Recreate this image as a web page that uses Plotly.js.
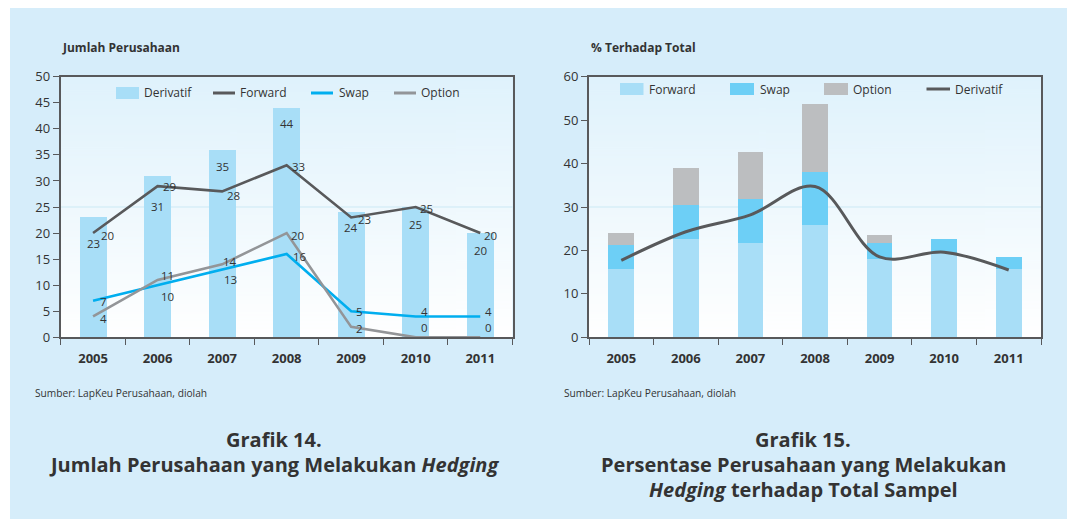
<!DOCTYPE html>
<html>
<head>
<meta charset="utf-8">
<script src="https://cdn.plot.ly/plotly-3.0.1.min.js"></script>
<style>
html,body{margin:0;padding:0;background:#ffffff;}
#chart{width:1067px;height:519px;}
</style>
</head>
<body>
<div id="chart"></div>
<script>
// ---------- DATA ----------
const years = ['2005','2006','2007','2008','2009','2010','2011'];

// Grafik 14 - Jumlah Perusahaan
const derivatif       = [23, 31, 36, 44, 24, 25, 20];
const derivatifLabels = ['23','31','35','44','24','25','20'];
const forward = [20, 29, 28, 33, 23, 25, 20];
const swap    = [7, 10, 13, 16, 5, 4, 4];
const option  = [4, 11, 14, 20, 2, 0, 0];

// Grafik 15 - % Terhadap Total
const forwardPct   = [15.8, 22.6, 21.7, 25.9, 18.0, 19.4, 15.7];
const swapPct      = [5.4, 7.9, 10.1, 12.2, 3.7, 3.2, 2.8];
const optionPct    = [2.8, 8.5, 10.9, 15.6, 1.9, 0, 0];
const derivatifPct = [17.7, 24.3, 28.2, 34.7, 18.5, 19.6, 15.5];

// ---------- STYLE ----------
const W = 1067, H = 519;
const px = x => x / W;
const py = y => 1 - y / H;
const FONT = 'Open Sans, Noto Sans, sans-serif';
const TXT = '#333333';
const AX = '#58595b';
const C_LIGHT = 'rgb(168,222,247)';
const C_SWAPBAR = 'rgb(109,207,246)';
const C_OPTBAR = 'rgb(188,190,192)';
const C_FWDLINE = 'rgb(88,89,91)';
const C_SWAPLINE = 'rgb(0,174,239)';
const C_OPTLINE = 'rgb(147,149,152)';

const L = {x0: 60.8, x1: 512.5, y0: 76.7, y1: 337.3};
const R = {x0: 589, x1: 1041, y0: 76.7, y1: 337.3};

function gradientURL() {
  const c = document.createElement('canvas');
  c.width = 4; c.height = 256;
  const g = c.getContext('2d');
  const gr = g.createLinearGradient(0, 0, 0, 256);
  gr.addColorStop(0, 'rgb(223,242,252)');
  gr.addColorStop(1, 'rgb(255,255,255)');
  g.fillStyle = gr;
  g.fillRect(0, 0, 4, 256);
  return c.toDataURL('image/png');
}
const grad = gradientURL();

function bgImage(b) {
  return {source: grad, xref: 'paper', yref: 'paper', x: px(b.x0), y: py(b.y0),
          sizex: (b.x1 - b.x0) / W, sizey: (b.y1 - b.y0) / H,
          xanchor: 'left', yanchor: 'top', sizing: 'stretch', layer: 'below'};
}

// ---------- TRACES ----------
const traces = [
  {type: 'bar', x: years, y: derivatif, xaxis: 'x', yaxis: 'y', width: 0.42,
   marker: {color: C_LIGHT}, hoverinfo: 'skip', showlegend: false},
  {type: 'scatter', mode: 'lines', x: years, y: forward, xaxis: 'x', yaxis: 'y',
   line: {color: C_FWDLINE, width: 2.6}, hoverinfo: 'skip', showlegend: false},
  {type: 'scatter', mode: 'lines', x: years, y: swap, xaxis: 'x', yaxis: 'y',
   line: {color: C_SWAPLINE, width: 2.6}, hoverinfo: 'skip', showlegend: false},
  {type: 'scatter', mode: 'lines', x: years, y: option, xaxis: 'x', yaxis: 'y',
   line: {color: C_OPTLINE, width: 2.6}, hoverinfo: 'skip', showlegend: false},

  {type: 'bar', x: years, y: forwardPct, xaxis: 'x2', yaxis: 'y2', width: 0.4,
   marker: {color: C_LIGHT}, hoverinfo: 'skip', showlegend: false},
  {type: 'bar', x: years, y: swapPct, xaxis: 'x2', yaxis: 'y2', width: 0.4,
   marker: {color: C_SWAPBAR}, hoverinfo: 'skip', showlegend: false},
  {type: 'bar', x: years, y: optionPct, xaxis: 'x2', yaxis: 'y2', width: 0.4,
   marker: {color: C_OPTBAR}, hoverinfo: 'skip', showlegend: false},
  {type: 'scatter', mode: 'lines', x: years, y: derivatifPct, xaxis: 'x2', yaxis: 'y2',
   line: {color: C_FWDLINE, width: 3, shape: 'spline', smoothing: 1}, hoverinfo: 'skip', showlegend: false}
];

// ---------- LABELS ----------
const labelFont = {family: FONT, size: 11.5, color: TXT};
// x is the category index (position on the category axis)
function seriesLabels(values, texts, xs, ys, anchor) {
  return values.map((v, i) => ({
    xref: 'x', yref: 'y', x: i, y: v, text: texts[i], showarrow: false,
    xanchor: anchor, yanchor: 'middle', xshift: xs[i], yshift: ys[i], font: labelFont
  }));
}
const annotations = [].concat(
  seriesLabels(derivatif, derivatifLabels, [0,0,0,0,0,0,0], [-26,-31,-17,-16,-15.5,-17,-17.6], 'center'),
  seriesLabels(forward, forward.map(String), [6,3,3,3,5,2,2], [-2,0,-4,-1,-2,-1,-2], 'left'),
  seriesLabels(swap, swap.map(String), [5,1,0,4,3,3,3], [-1,-11.5,-9.5,-3,0,4.7,4.7], 'left'),
  seriesLabels(option, option.map(String), [5,1,-1,2,3,3,3], [-2,4,3.3,-2,-1.4,9.6,9.6], 'left')
);

function textAnn(x, y, text, size, anchor, bold) {
  return {xref: 'paper', yref: 'paper', x: px(x), y: py(y), text: bold ? '<b>' + text + '</b>' : text,
          showarrow: false, xanchor: anchor, yanchor: 'middle',
          font: {family: FONT, size: size, color: TXT}};
}
// axis titles
annotations.push(textAnn(60, 47.3, 'Jumlah Perusahaan', 12, 'left', true));
annotations.push(textAnn(589, 47.3, '% Terhadap Total', 12, 'left', true));
// sources
annotations.push(textAnn(33, 393, 'Sumber: LapKeu Perusahaan, diolah', 10.2, 'left', false));
annotations.push(textAnn(562, 393, 'Sumber: LapKeu Perusahaan, diolah', 10.2, 'left', false));
// captions
const CAP = 20;
annotations.push(textAnn(274, 439, 'Grafik 14.', CAP, 'center', true));
annotations.push(textAnn(274, 464, 'Jumlah Perusahaan yang Melakukan <i>Hedging</i>', CAP, 'center', true));
annotations.push(textAnn(803, 439, 'Grafik 15.', CAP, 'center', true));
annotations.push(textAnn(803, 464, 'Persentase Perusahaan yang Melakukan', CAP, 'center', true));
annotations.push(textAnn(803, 489, '<i>Hedging</i> terhadap Total Sampel', CAP, 'center', true));

// ---------- LEGENDS (drawn) ----------
const shapes = [
  {type: 'rect', xref: 'paper', yref: 'paper', x0: 0, x1: px(10), y0: 0, y1: 1,
   fillcolor: '#ffffff', line: {width: 0}, layer: 'below'},
  {type: 'rect', xref: 'paper', yref: 'paper', x0: 0, x1: 1, y0: py(8), y1: 1,
   fillcolor: '#ffffff', line: {width: 0}, layer: 'below'},
  {type: 'line', xref: 'x domain', yref: 'y', x0: 0, x1: 1, y0: 25, y1: 25,
   line: {color: 'rgb(203,233,245)', width: 1}, layer: 'below'},
  {type: 'line', xref: 'x2 domain', yref: 'y2', x0: 0, x1: 1, y0: 30, y1: 30,
   line: {color: 'rgb(203,233,245)', width: 1}, layer: 'below'}
];
function legBox(x0, x1, yc, color, label, tx) {
  shapes.push({type: 'rect', xref: 'paper', yref: 'paper', x0: px(x0), x1: px(x1),
               y0: py(yc + 6), y1: py(yc - 6), fillcolor: color, line: {width: 0}});
  annotations.push(textAnn(tx, yc, label, 12, 'left', false));
}
function legLine(x0, x1, yc, color, label, tx) {
  shapes.push({type: 'line', xref: 'paper', yref: 'paper', x0: px(x0), x1: px(x1),
               y0: py(yc), y1: py(yc), line: {color: color, width: 3}});
  annotations.push(textAnn(tx, yc, label, 12, 'left', false));
}
legBox(116, 139, 93, C_LIGHT, 'Derivatif', 142);
legLine(213, 235, 93, C_FWDLINE, 'Forward', 238);
legLine(311, 333, 93, C_SWAPLINE, 'Swap', 337);
legLine(394, 416, 93, C_OPTLINE, 'Option', 419);

legBox(620, 643.5, 89, C_LIGHT, 'Forward', 647);
legBox(730, 754, 89, C_SWAPBAR, 'Swap', 758);
legBox(824, 848, 89, C_OPTBAR, 'Option', 851);
legLine(926.5, 950, 89, C_FWDLINE, 'Derivatif', 953);

// ---------- AXES ----------
function xAxis(b, anchor) {
  return {domain: [px(b.x0), px(b.x1)], anchor: anchor, type: 'category',
          categoryorder: 'array', categoryarray: years, range: [-0.5, 6.5],
          tickson: 'boundaries', ticks: 'outside', ticklen: 6, tickwidth: 1, tickcolor: AX,
          ticklabelstandoff: 8,
          showline: true, linecolor: AX, linewidth: 2, mirror: true, showgrid: false,
          zeroline: false, fixedrange: true,
          tickfont: {family: FONT, size: 13, color: TXT, weight: 'bold'}};
}
function yAxis(b, anchor, max, dt) {
  return {domain: [py(b.y1), py(b.y0)], anchor: anchor, range: [0, max], dtick: dt, tick0: 0,
          ticks: 'outside', ticklen: 6, tickwidth: 1, tickcolor: AX,
          showline: true, linecolor: AX, linewidth: 2, mirror: true, showgrid: false,
          zeroline: false, fixedrange: true,
          tickfont: {family: FONT, size: 13, color: TXT}};
}

const layout = {
  width: W, height: H,
  margin: {l: 0, r: 0, t: 0, b: 0, pad: 0},
  paper_bgcolor: 'rgb(214,237,250)',
  plot_bgcolor: 'rgba(0,0,0,0)',
  showlegend: false,
  barmode: 'stack',
  font: {family: FONT, color: TXT},
  xaxis: xAxis(L, 'y'),
  yaxis: yAxis(L, 'x', 50, 5),
  xaxis2: xAxis(R, 'y2'),
  yaxis2: yAxis(R, 'x2', 60, 10),
  images: [bgImage(L), bgImage(R)],
  shapes: shapes,
  annotations: annotations
};

Plotly.newPlot('chart', traces, layout, {displayModeBar: false, staticPlot: true});
</script>
</body>
</html>
